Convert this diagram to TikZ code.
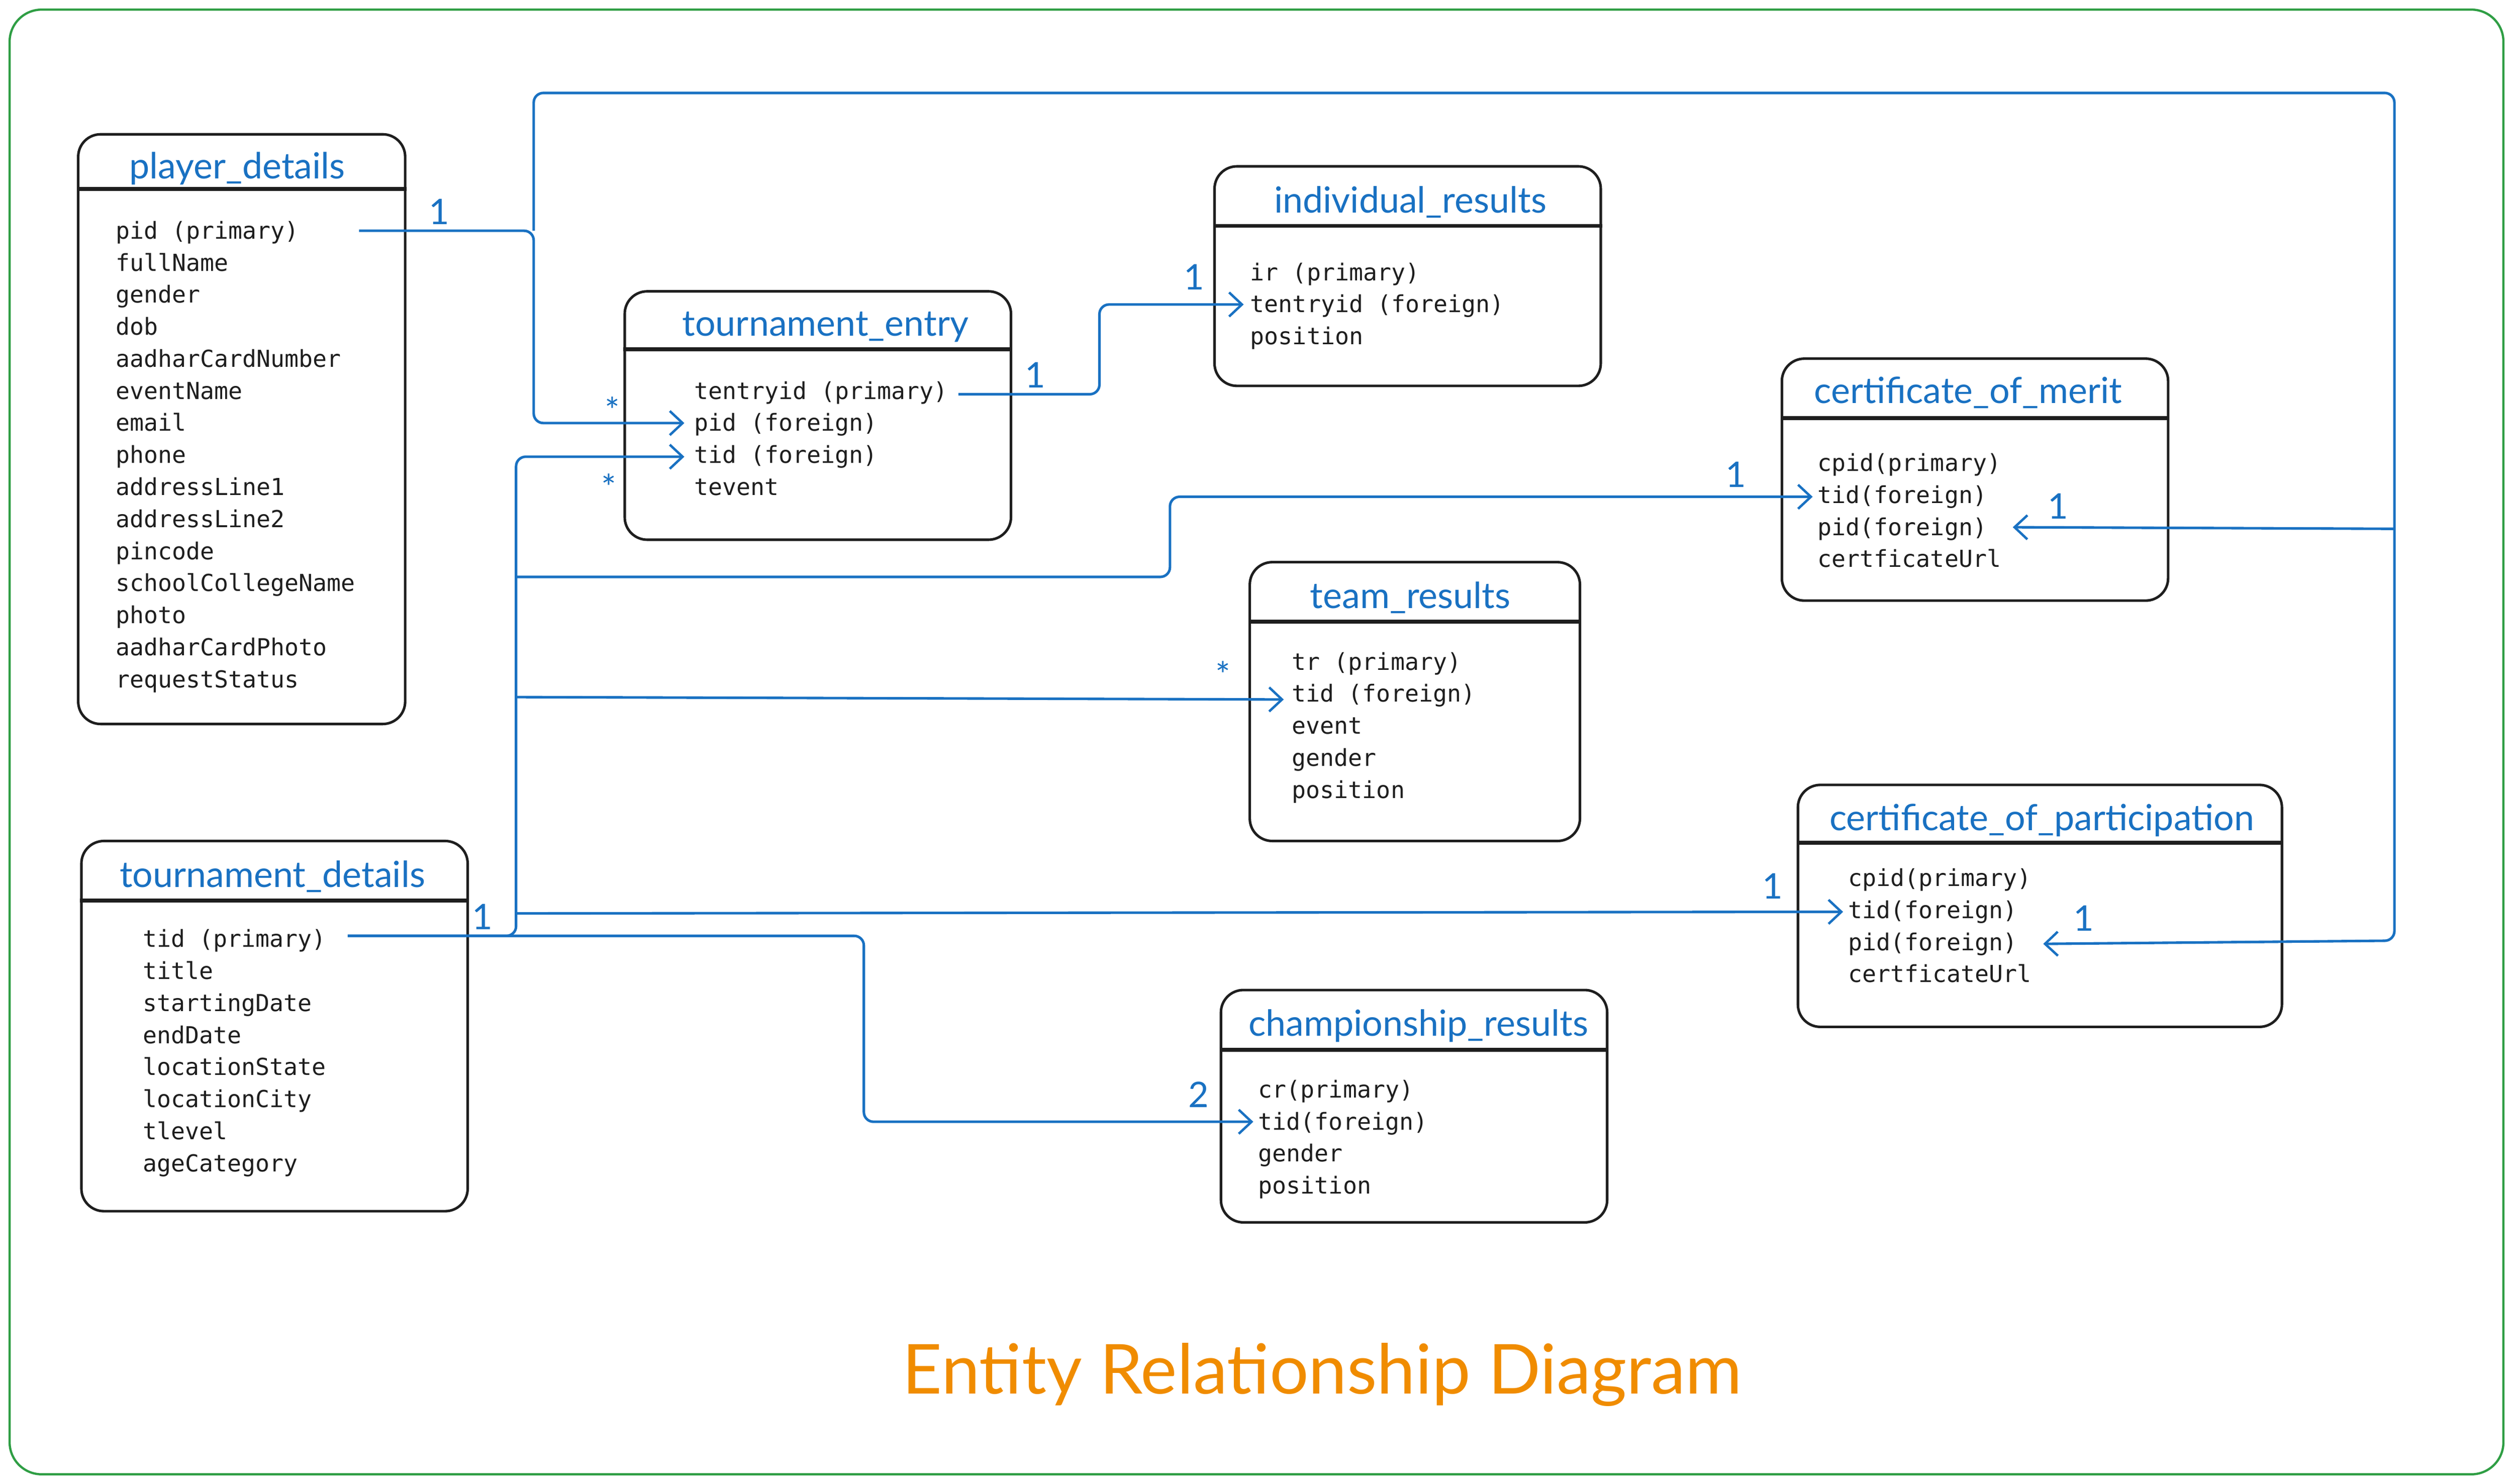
\documentclass[tikz,border=0pt]{standalone}
\usepackage{fontspec}
\setmainfont{Lato}
\newfontfamily\monof{DejaVu Sans Mono}
\usetikzlibrary{arrows.meta,calc}
\definecolor{exblue}{HTML}{1971C2}
\definecolor{exorange}{HTML}{F08C00}
\definecolor{exgreen}{HTML}{2F9E44}
\definecolor{exblack}{HTML}{1E1E1E}
\begin{document}
\begin{tikzpicture}[x=1pt,y=1pt,
  entbox/.style={draw=exblack, line width=1.6pt, rounded corners=14pt, anchor=north west, inner sep=0pt},
  hdr/.style={draw=exblack, line width=2.4pt},
  ttl/.style={text=exblue, font=\fontsize{22.5}{26}\selectfont, inner sep=0pt, yshift=-2pt},
  fld/.style={text=exblack, font=\monof\fontsize{14.6}{20}\selectfont, anchor=mid west, inner sep=0pt, yshift=-2.5pt},
  card/.style={text=exblue, font=\fontsize{22}{26}\selectfont, inner sep=0pt},
  conn/.style={draw=exblue, line width=1.6pt, rounded corners=6pt},
  tip/.style={-{Straight Barb[length=8pt,width=15pt,line width=1.5pt]}},
  frm/.style={draw=exgreen, line width=1.4pt, rounded corners=20pt, inner sep=0pt}
]
\useasboundingbox (0,0) rectangle (1568,-926);
\node[frm, minimum width=1556pt, minimum height=914pt] (frame) at (784,-463) {};

% ---------- player_details
\node[entbox, minimum width=204pt, minimum height=368pt] (pd) at (48,-83) {};
\draw[hdr] ($(pd.north west)+(0,-35)$) -- ($(pd.north east)+(0,-35)$);
\node[ttl] (pd-t) at (148,-103) {player\_details};
\node[fld] (pd-f1) at (72,-144) {pid (primary)};
\node[fld] (pd-f2) at (72,-164) {fullName};
\node[fld] (pd-f3) at (72,-184) {gender};
\node[fld] (pd-f4) at (72,-204) {dob};
\node[fld] (pd-f5) at (72,-224) {aadharCardNumber};
\node[fld] (pd-f6) at (72,-244) {eventName};
\node[fld] (pd-f7) at (72,-264) {email};
\node[fld] (pd-f8) at (72,-284) {phone};
\node[fld] (pd-f9) at (72,-304) {addressLine1};
\node[fld] (pd-f10) at (72,-324) {addressLine2};
\node[fld] (pd-f11) at (72,-344) {pincode};
\node[fld] (pd-f12) at (72,-364) {schoolCollegeName};
\node[fld] (pd-f13) at (72,-384) {photo};
\node[fld] (pd-f14) at (72,-404) {aadharCardPhoto};
\node[fld] (pd-f15) at (72,-424) {requestStatus};

% ---------- tournament_entry
\node[entbox, minimum width=241pt, minimum height=155pt] (te) at (389,-181) {};
\draw[hdr] ($(te.north west)+(0,-37)$) -- ($(te.north east)+(0,-37)$);
\node[ttl] (te-t) at (515,-202) {tournament\_entry};
\node[fld] (te-f1) at (433,-244) {tentryid (primary)};
\node[fld] (te-f2) at (433,-264) {pid (foreign)};
\node[fld] (te-f3) at (433,-284) {tid (foreign)};
\node[fld] (te-f4) at (433,-304) {tevent};

% ---------- individual_results
\node[entbox, minimum width=241pt, minimum height=137pt] (ir) at (757,-103) {};
\draw[hdr] ($(ir.north west)+(0,-38)$) -- ($(ir.north east)+(0,-38)$);
\node[ttl] (ir-t) at (880,-124) {individual\_results};
\node[fld] (ir-f1) at (780,-170) {ir (primary)};
\node[fld] (ir-f2) at (780,-190) {tentryid (foreign)};
\node[fld] (ir-f3) at (780,-210) {position};

% ---------- certificate_of_merit
\node[entbox, minimum width=241pt, minimum height=151pt] (cm) at (1111,-223) {};
\draw[hdr] ($(cm.north west)+(0,-38)$) -- ($(cm.north east)+(0,-38)$);
\node[ttl] (cm-t) at (1228,-243) {certificate\_of\_merit};
\node[fld] (cm-f1) at (1134,-289) {cpid(primary)};
\node[fld] (cm-f2) at (1134,-309) {tid(foreign)};
\node[fld] (cm-f3) at (1134,-329) {pid(foreign)};
\node[fld] (cm-f4) at (1134,-349) {certficateUrl};

% ---------- team_results
\node[entbox, minimum width=206pt, minimum height=174pt] (tr) at (779,-350) {};
\draw[hdr] ($(tr.north west)+(0,-38)$) -- ($(tr.north east)+(0,-38)$);
\node[ttl] (tr-t) at (880,-371) {team\_results};
\node[fld] (tr-f1) at (806,-413) {tr (primary)};
\node[fld] (tr-f2) at (806,-433) {tid (foreign)};
\node[fld] (tr-f3) at (806,-453) {event};
\node[fld] (tr-f4) at (806,-473) {gender};
\node[fld] (tr-f5) at (806,-493) {position};

% ---------- certificate_of_participation
\node[entbox, minimum width=302pt, minimum height=151pt] (cp) at (1121,-489) {};
\draw[hdr] ($(cp.north west)+(0,-37)$) -- ($(cp.north east)+(0,-37)$);
\node[ttl] (cp-t) at (1274,-510) {certificate\_of\_participation};
\node[fld] (cp-f1) at (1153,-548) {cpid(primary)};
\node[fld] (cp-f2) at (1153,-568) {tid(foreign)};
\node[fld] (cp-f3) at (1153,-588) {pid(foreign)};
\node[fld] (cp-f4) at (1153,-608) {certficateUrl};

% ---------- tournament_details
\node[entbox, minimum width=241pt, minimum height=231pt] (td) at (50,-524) {};
\draw[hdr] ($(td.north west)+(0,-38)$) -- ($(td.north east)+(0,-38)$);
\node[ttl] (td-t) at (170,-545) {tournament\_details};
\node[fld] (td-f1) at (89,-586) {tid (primary)};
\node[fld] (td-f2) at (89,-606) {title};
\node[fld] (td-f3) at (89,-626) {startingDate};
\node[fld] (td-f4) at (89,-646) {endDate};
\node[fld] (td-f5) at (89,-666) {locationState};
\node[fld] (td-f6) at (89,-686) {locationCity};
\node[fld] (td-f7) at (89,-706) {tlevel};
\node[fld] (td-f8) at (89,-726) {ageCategory};

% ---------- championship_results
\node[entbox, minimum width=241pt, minimum height=145pt] (cr) at (761,-617) {};
\draw[hdr] ($(cr.north west)+(0,-38)$) -- ($(cr.north east)+(0,-38)$);
\node[ttl] (cr-t) at (885,-638) {championship\_results};
\node[fld] (cr-f1) at (785,-680) {cr(primary)};
\node[fld] (cr-f2) at (785,-700) {tid(foreign)};
\node[fld] (cr-f3) at (785,-720) {gender};
\node[fld] (cr-f4) at (785,-740) {position};

% ---------- junction coordinates
\coordinate (s-pid) at (224,-144);
\coordinate (j-pid) at (333,-144);
\coordinate (j-top) at (333,-58);
\coordinate (j-tr) at (1494,-58);
\coordinate (j-rm) at (1494,-330);
\coordinate (j-rb) at (1494,-587);
\coordinate (s-tid) at (217,-584);
\coordinate (j-tid) at (322,-584);
\coordinate (v-tid) at (322,-285);
\coordinate (j-cm) at (322,-360);
\coordinate (j-tr2) at (322,-435);
\coordinate (j-cp) at (322,-570);
\coordinate (s-te) at (598,-246);

% ---------- connectors
\draw[conn,tip] (s-pid) -- (j-pid) -- (333,-264) -- ($(te-f2.mid west)+(-6,2.5)$);
\draw[conn,tip] (j-pid) -- (j-top) -- (j-tr) -- (j-rb) -- ($(cp-f3.mid east)+(16,1.5)$);
\draw[conn,tip] (j-rm) -- ($(cm-f3.mid east)+(16,2.5)$);
\draw[conn,tip] (s-tid) -- (j-tid) -- (v-tid) -- ($(te-f3.mid west)+(-6,1.5)$);
\draw[conn,tip] (j-cm) -- (730,-360) -- (730,-310) -- ($(cm-f2.mid west)+(-3,1.5)$);
\draw[conn,tip] (j-tr2) -- ($(tr-f2.mid west)+(-5,-1)$);
\draw[conn,tip] (j-cp) -- ($(cp-f2.mid west)+(-3,1.5)$);
\draw[conn,tip] (s-tid) -- (539,-584) -- (539,-700) -- ($(cr-f2.mid west)+(-3,2.5)$);
\draw[conn,tip] (s-te) -- (686,-246) -- (686,-190) -- ($(ir-f2.mid west)+(-4,2.5)$);

% ---------- cardinality labels
\node[card] (l1) at (274,-132) {1};
\node[card] (l2) at (382,-256) {*};
\node[card] (l3) at (380,-304) {*};
\node[card] (l4) at (646,-234) {1};
\node[card] (l5) at (745,-173) {1};
\node[card] (l6) at (1083,-296) {1};
\node[card] (l7) at (1284,-316) {1};
\node[card] (l8) at (763,-421) {*};
\node[card] (l9) at (1106,-553) {1};
\node[card] (l10) at (1300,-573) {1};
\node[card] (l11) at (301,-572) {1};
\node[card] (l12) at (748,-683) {2};

% ---------- title
\node[text=exorange, font=\fontsize{43}{50}\selectfont, inner sep=0pt] (title) at (825,-858) {Entity Relationship Diagram};
\end{tikzpicture}
\end{document}
